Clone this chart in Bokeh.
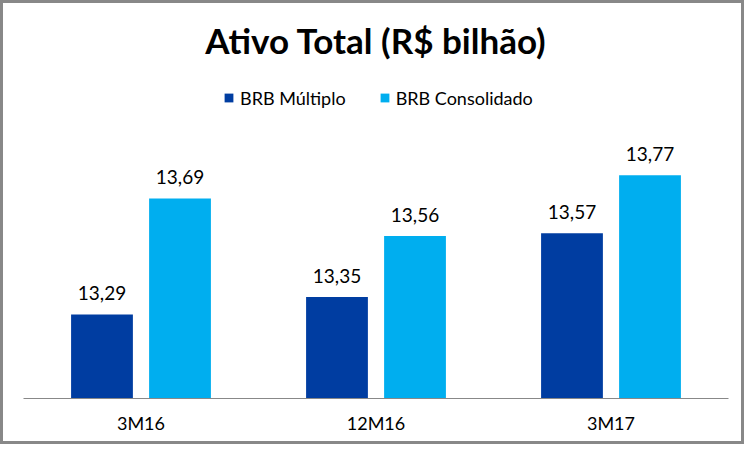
from bokeh.plotting import figure
from bokeh.models import (ColumnDataSource, Range1d, Label, Legend, LegendItem,
                          LinearAxis, FixedTicker)
from bokeh.transform import dodge
from bokeh.core.properties import value
from bokeh.embed import file_html
from bokeh.resources import INLINE

categories = ["3M16", "12M16", "3M17"]
multiplo = [13.29, 13.35, 13.57]
consolidado = [13.69, 13.56, 13.77]
series_names = ["BRB Múltiplo", "BRB Consolidado"]
title_text = "Ativo Total (R$ bilhão)"

DARK = "#003DA1"
LIGHT = "#00AEEF"
FONT = "Lato"

W, H = 744, 444
# layout mapping (pixels)
X0_PX, CAT_PX = 23, 235
BASE_PX, PX_PER_UNIT = 398, 290
ybase = 13.0

xs = [i + 0.5 for i in range(len(categories))]
src = ColumnDataSource(dict(
    x=xs,
    m=multiplo,
    c=consolidado,
    m_lbl=[f"{v:.2f}".replace(".", ",") for v in multiplo],
    c_lbl=[f"{v:.2f}".replace(".", ",") for v in consolidado],
))

x_range = Range1d(-X0_PX / CAT_PX, (W - X0_PX) / CAT_PX)
y_range = Range1d(ybase - (H - BASE_PX) / PX_PER_UNIT, ybase + BASE_PX / PX_PER_UNIT)

def ydata(px_from_top):
    return y_range.end - px_from_top / PX_PER_UNIT

p = figure(x_range=x_range, y_range=y_range, width=W, height=H,
           output_backend="svg", toolbar_location=None,
           x_axis_location=None, y_axis_location=None,
           min_border=0, min_border_left=0, min_border_right=0,
           min_border_top=0, min_border_bottom=0)
p.background_fill_color = "white"
p.border_fill_color = "white"
p.outline_line_color = "#888888"
p.outline_line_width = 5
p.grid.visible = False

off = 0.166
w = 0.263
r1 = p.vbar(x=dodge("x", -off), top="m", bottom=ybase, width=w,
            source=src, fill_color=DARK, line_color=None)
r2 = p.vbar(x=dodge("x", off), top="c", bottom=ybase, width=w,
            source=src, fill_color=LIGHT, line_color=None)

p.text(x=dodge("x", -off), y="m", text="m_lbl", source=src,
       text_align="center", text_baseline="alphabetic", y_offset=-21,
       text_font=value(FONT), text_font_size="19px", text_color="#000000")
p.text(x=dodge("x", off), y="c", text="c_lbl", source=src,
       text_align="center", text_baseline="alphabetic", y_offset=-21,
       text_font=value(FONT), text_font_size="19px", text_color="#000000")

ax = LinearAxis(fixed_location=ybase, bounds=(0, len(categories)),
                ticker=FixedTicker(ticks=xs),
                major_label_overrides={x: c for x, c in zip(xs, categories)})
ax.axis_line_color = "#888888"
ax.axis_line_width = 1
ax.major_tick_line_color = None
ax.minor_tick_line_color = None
ax.major_label_standoff = 7
ax.major_label_text_font = FONT
ax.major_label_text_font_size = "18px"
ax.major_label_text_color = "#000000"
p.add_layout(ax, "below")

p.add_layout(Label(x=len(categories) / 2, y=ydata(39), text=title_text, text_align="center",
                   text_baseline="alphabetic", text_font=FONT, text_font_size="35px",
                   text_font_style="bold", text_color="#000000"))

legend = Legend(items=[LegendItem(label=series_names[0], renderers=[r1]),
                       LegendItem(label=series_names[1], renderers=[r2])],
                orientation="horizontal", location=(223, H - 108.5),
                glyph_width=11, glyph_height=11, label_standoff=6, spacing=33,
                padding=0, margin=0, border_line_color=None, background_fill_alpha=0,
                label_text_font=FONT, label_text_font_size="18px", label_text_color="#000000",
                label_height=20)
p.add_layout(legend, "center")

open("out.html", "w").write(file_html(p, INLINE))
